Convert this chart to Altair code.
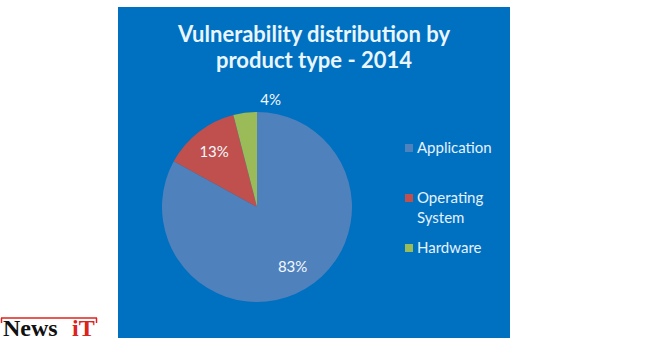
import altair as alt
import pandas as pd

categories = ["Application", "Operating System", "Hardware"]
shares = [83, 13, 4]
pct_labels = ["83%", "13%", "4%"]
colors = ["#4F81BD", "#C0504D", "#9BBB59"]
title_lines = ["Vulnerability distribution by", "product type - 2014"]

df = pd.DataFrame({"category": categories, "share": shares, "label": pct_labels})

W, H = 650, 342
CX, CY, R = 257, 207, 95
FONT = "Lato"
BG = "#0070C0"


def one():
    return alt.Data(values=[{}])


bg = alt.Chart(one()).mark_rect(color=BG).encode(
    x=alt.value(118), x2=alt.value(510), y=alt.value(7), y2=alt.value(338)
)

base = alt.Chart(df).transform_window(idx="row_number()")
color = alt.Color("category:N", scale=alt.Scale(domain=categories, range=colors), legend=None)
theta = alt.Theta("share:Q", stack=True, scale=alt.Scale(type="linear"))
order = alt.Order("idx:Q", sort="ascending")

pie = base.mark_arc(outerRadius=R).encode(
    theta=theta, color=color, order=order, x=alt.value(CX), y=alt.value(CY)
)

pct = base.transform_calculate(rad="datum.share < 5 ? 108 : 70").mark_text(
    font=FONT, fontSize=15, color="#F4F8FF"
).encode(
    theta=theta,
    radius=alt.Radius("rad:Q", scale=None),
    text="label:N",
    order=order,
    x=alt.value(CX),
    y=alt.value(CY),
)

ly = alt.Y("category:N", scale=alt.Scale(type="point", domain=categories, range=[148, 248], padding=0), axis=None)

leg_sq = alt.Chart(df).mark_square(size=64, opacity=1).encode(
    x=alt.value(409), y=ly, color=color
)
leg_tx = alt.Chart(df).mark_text(
    align="left", baseline="alphabetic", lineBreak=" ", dy=5, font=FONT,
    fontSize=15, lineHeight=20, color="#E6F2FF"
).encode(x=alt.value(417), y=ly, text="category:N")

title = alt.Chart(one()).mark_text(
    align="center", baseline="alphabetic", font=FONT, fontSize=22,
    fontWeight="bold", lineHeight=26, color="#EAF6FF"
).encode(x=alt.value(314), y=alt.value(42), text=alt.value(title_lines))

logo_line = alt.Chart(one()).mark_rule(color="#E0201B", strokeWidth=1.5).encode(
    x=alt.value(1), x2=alt.value(97), y=alt.value(318)
)
logo_tick_l = alt.Chart(one()).mark_rule(color="#E0201B", strokeWidth=1.5).encode(
    x=alt.value(1.5), y=alt.value(318), y2=alt.value(323)
)
logo_tick_r = alt.Chart(one()).mark_rule(color="#E0201B", strokeWidth=1.5).encode(
    x=alt.value(96.5), y=alt.value(318), y2=alt.value(323)
)
logo_news = alt.Chart(one()).mark_text(
    align="left", baseline="alphabetic", font="Liberation Serif", fontSize=24,
    fontWeight="bold", color="#111111"
).encode(x=alt.value(3), y=alt.value(336), text=alt.value("News"))
logo_it = alt.Chart(one()).mark_text(
    align="left", baseline="alphabetic", font="Liberation Serif", fontSize=24,
    fontWeight="bold", color="#D9251D"
).encode(x=alt.value(72), y=alt.value(336), text=alt.value("iT"))

chart = alt.layer(
    bg, pie, pct, leg_sq, leg_tx, title,
    logo_line, logo_tick_l, logo_tick_r, logo_news, logo_it
).properties(
    width=W, height=H, autosize=alt.AutoSizeParams(type="none"), padding=0,
    background="white"
).configure_view(stroke=None)

chart.save("out.html", embed_options={"renderer": "svg", "actions": False})
